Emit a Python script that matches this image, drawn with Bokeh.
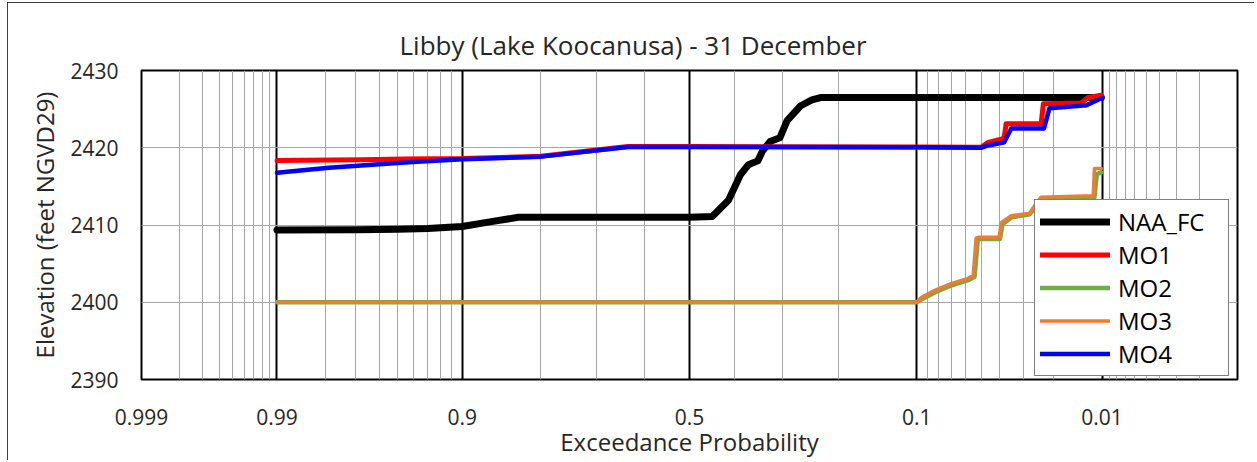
from statistics import NormalDist
from bokeh.plotting import figure
from bokeh.models import (FixedTicker, CustomJSTickFormatter, Legend, LegendItem,
                          ColumnDataSource, Label, Range1d)
from bokeh.embed import file_html
from bokeh.resources import INLINE

# ---------------- data (exceedance probability, elevation ft) ----------------
naa_p = [0.99, 0.97, 0.95, 0.93, 0.90, 0.87, 0.833, 0.80, 0.70, 0.60, 0.50, 0.449,
         0.413, 0.387, 0.370, 0.350, 0.340, 0.325, 0.305, 0.291, 0.266, 0.245,
         0.230, 0.20, 0.10, 0.05, 0.0101]
naa_e = [2409.35, 2409.4, 2409.45, 2409.55, 2409.8, 2410.4, 2411.0, 2411.0, 2411.0,
         2411.0, 2411.0, 2411.1, 2413.2, 2416.5, 2417.8, 2418.3, 2419.6, 2420.8,
         2421.3, 2423.5, 2425.4, 2426.2, 2426.5, 2426.5, 2426.5, 2426.5, 2426.5]

mo1_p = [0.99, 0.968, 0.946, 0.90, 0.799, 0.636, 0.50, 0.10, 0.050, 0.0461, 0.0394,
         0.0380, 0.0371, 0.0237, 0.0230, 0.0136, 0.0123, 0.0101]
mo1_e = [2418.35, 2418.45, 2418.55, 2418.6, 2418.9, 2420.15, 2420.15, 2420.1, 2420.05,
         2420.7, 2421.1, 2421.3, 2423.1, 2423.1, 2425.7, 2425.8, 2426.5, 2426.8]

mo2_p = [0.99, 0.50, 0.100, 0.0950, 0.0830, 0.0695, 0.0575, 0.0540, 0.0520, 0.0510,
         0.0400, 0.0388, 0.0345, 0.0275, 0.0250, 0.0233, 0.0112, 0.0108, 0.0101]
mo2_e = [2400.0, 2400.0, 2400.0, 2400.4, 2401.3, 2402.2, 2402.9, 2403.3, 2408.1,
         2408.2, 2408.2, 2410.1, 2411.0, 2411.4, 2412.6, 2413.4, 2413.6, 2416.6, 2416.8]

mo3_p = [0.99, 0.50, 0.100, 0.0958, 0.0838, 0.0701, 0.0581, 0.0548, 0.0530, 0.0518,
         0.0404, 0.0394, 0.0348, 0.0277, 0.0253, 0.0237, 0.0114, 0.0112, 0.0101]
mo3_e = [2400.0, 2400.0, 2400.0, 2400.6, 2401.5, 2402.4, 2403.1, 2403.5, 2408.3,
         2408.4, 2408.4, 2410.3, 2411.2, 2411.5, 2412.8, 2413.6, 2413.8, 2417.3, 2417.3]

mo4_p = [0.99, 0.979, 0.946, 0.90, 0.799, 0.636, 0.50, 0.10, 0.050, 0.0461, 0.0380,
         0.0348, 0.0228, 0.0212, 0.0126, 0.0101]
mo4_e = [2416.75, 2417.4, 2418.1, 2418.5, 2418.85, 2420.1, 2420.1, 2420.05, 2420.0,
         2420.3, 2420.7, 2422.5, 2422.5, 2425.1, 2425.5, 2426.4]

series_names = ["NAA_FC", "MO1", "MO2", "MO3", "MO4"]
series_colors = ["#000000", "#FF0000", "#70AD47", "#ED7D31", "#0000FF"]
series_widths = [7, 5, 4.5, 3.5, 4.5]

tick_probs = [0.999, 0.99, 0.9, 0.5, 0.1, 0.01, 0.001]
tick_labels = ["0.999", "0.99", "0.9", "0.5", "0.1", "0.01", "0.001"]
major_grid_probs = [0.99, 0.9, 0.5, 0.1, 0.01]
minor_grid_probs = ([0.998, 0.997, 0.996, 0.995, 0.994, 0.993, 0.992, 0.991] +
                    [0.98, 0.97, 0.96, 0.95, 0.94, 0.93, 0.92, 0.91] +
                    [0.8, 0.7, 0.6, 0.4, 0.3, 0.2] +
                    [0.09, 0.08, 0.07, 0.06, 0.05, 0.04, 0.03, 0.02] +
                    [0.009, 0.008, 0.007, 0.006, 0.005, 0.004, 0.003, 0.002])
y_ticks = [2390, 2400, 2410, 2420, 2430]

ND = NormalDist()


def xpos(p):
    # normal-probability (probit) scale, exceedance decreasing to the right
    return ND.inv_cdf(1.0 - p)


FONT = "Open Sans"
TXT = "#262626"

p = figure(frame_width=1096, frame_height=309,
           min_border_left=134, min_border_right=17,
           min_border_top=68, min_border_bottom=77,
           output_backend="svg", toolbar_location=None,
           x_range=Range1d(xpos(0.999), xpos(0.001)),
           y_range=Range1d(2390, 2430))
p.styles = {"margin-left": "7px", "margin-top": "2px",
            "outline": "2px solid #000000", "outline-offset": "-2px"}

p.title.text = "Libby (Lake Koocanusa)  -  31 December"
p.title.align = "left"
p.title.offset = 258
p.title.text_font = FONT
p.title.text_font_size = "26px"
p.title.text_font_style = "normal"
p.title.text_color = TXT
p.title.standoff = 15

p.outline_line_color = "black"
p.outline_line_width = 2
p.outline_line_alpha = 1
p.background_fill_color = "white"
p.border_fill_color = "white"

# grids
xt = [xpos(v) for v in major_grid_probs]
xm = [xpos(v) for v in minor_grid_probs]
p.xgrid.ticker = FixedTicker(ticks=xt, minor_ticks=xm)
p.xgrid.grid_line_color = "black"
p.xgrid.grid_line_width = 2
p.xgrid.minor_grid_line_color = "#A6A6A6"
p.xgrid.minor_grid_line_width = 1
p.ygrid.ticker = FixedTicker(ticks=y_ticks)
p.ygrid.grid_line_color = "#A6A6A6"
p.ygrid.grid_line_width = 1

# x axis
tick_x = [xpos(v) for v in tick_probs]
shown = list(tick_labels)
shown[-1] = ""
p.xaxis.ticker = FixedTicker(ticks=tick_x)
p.xaxis.formatter = CustomJSTickFormatter(args=dict(xs=tick_x, labels=shown), code="""
let best = 0, d = 1e9;
for (let i = 0; i < xs.length; i++) { const e = Math.abs(xs[i] - tick); if (e < d) { d = e; best = i; } }
return labels[best];
""")
p.xaxis.axis_line_color = None
p.xaxis.major_tick_line_color = None
p.xaxis.minor_tick_line_color = None
p.xaxis.major_tick_out = 0
p.xaxis.major_tick_in = 0
p.xaxis.major_label_standoff = 29
p.xaxis.major_label_text_font = FONT
p.xaxis.major_label_text_font_size = "21px"
p.xaxis.major_label_text_color = TXT
p.xaxis.axis_label = "Exceedance Probability"
p.xaxis.axis_label_text_font = FONT
p.xaxis.axis_label_text_font_size = "24px"
p.xaxis.axis_label_text_font_style = "normal"
p.xaxis.axis_label_text_color = TXT
p.xaxis.axis_label_standoff = -3

# label for the right-edge tick (kept inside the chart like the original)
p.add_layout(Label(x=xpos(tick_probs[-1]), y=2390, text=tick_labels[-1],
                   x_offset=-20, y_offset=-29, text_align="center",
                   text_baseline="top", text_font=FONT, text_font_size="21px",
                   text_color=TXT))

# y axis
p.yaxis.ticker = FixedTicker(ticks=y_ticks)
p.yaxis.axis_line_color = None
p.yaxis.major_tick_line_color = None
p.yaxis.minor_tick_line_color = None
p.yaxis.major_tick_out = 0
p.yaxis.major_tick_in = 0
p.yaxis.major_label_standoff = 23
p.yaxis.major_label_text_font = FONT
p.yaxis.major_label_text_font_size = "21px"
p.yaxis.major_label_text_color = TXT
p.yaxis.axis_label = "Elevation (feet NGVD29)"
p.yaxis.axis_label_text_font = FONT
p.yaxis.axis_label_text_font_size = "24px"
p.yaxis.axis_label_text_font_style = "normal"
p.yaxis.axis_label_text_color = TXT
p.yaxis.axis_label_standoff = 6

# series
all_p = [naa_p, mo1_p, mo2_p, mo3_p, mo4_p]
all_e = [naa_e, mo1_e, mo2_e, mo3_e, mo4_e]
items = []
for name, col, w, pp, ee in zip(series_names, series_colors, series_widths, all_p, all_e):
    src = ColumnDataSource(dict(x=[xpos(v) for v in pp], y=ee))
    r = p.line("x", "y", source=src, line_color=col, line_width=w,
               line_join="round", line_cap="round")
    items.append(LegendItem(label=name, renderers=[r]))

legend = Legend(items=items, location=(893, 3), orientation="vertical",
                border_line_color="black", border_line_width=1,
                background_fill_color="white", background_fill_alpha=1,
                padding=5, spacing=0, margin=0,
                glyph_width=70, glyph_height=27, label_height=27,
                label_width=105,
                label_standoff=8, label_text_font=FONT,
                label_text_font_size="24px", label_text_color="#000000")
p.add_layout(legend)

open("out.html", "w").write(file_html(p, INLINE))
